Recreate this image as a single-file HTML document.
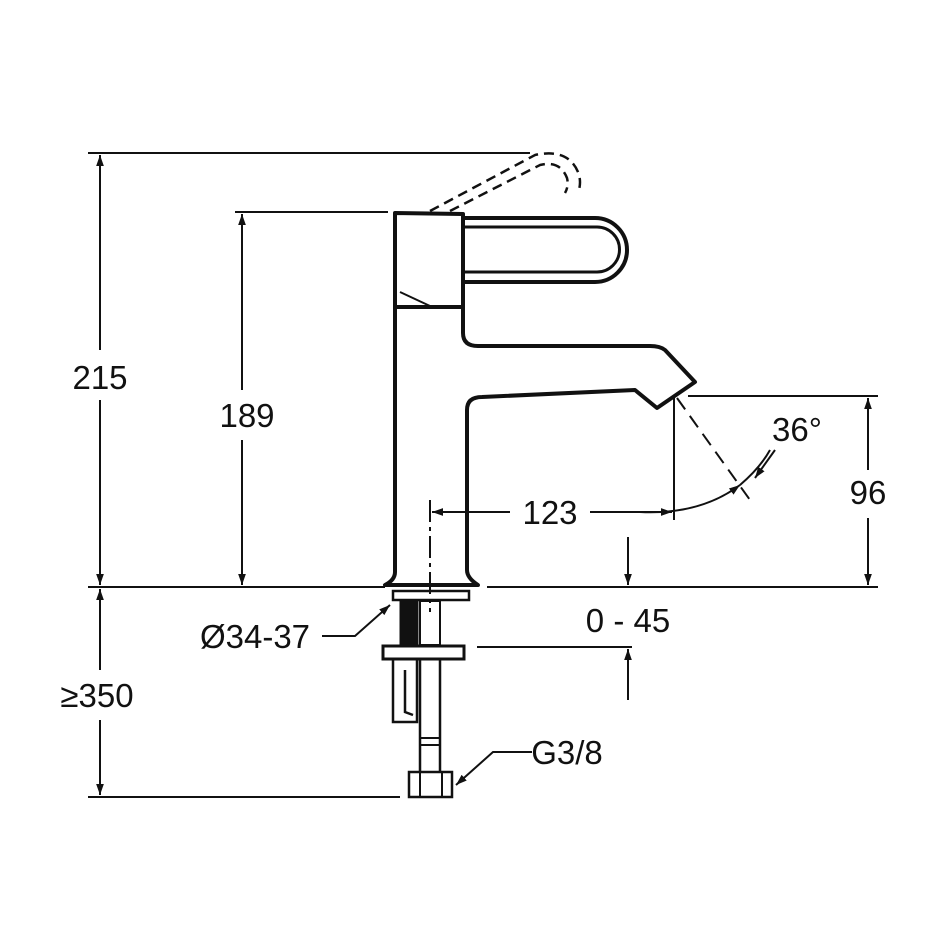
<!DOCTYPE html>
<html><head><style>
html,body{margin:0;padding:0;background:#fff;}
svg{display:block;}
text{font-family:"Liberation Sans",sans-serif;font-size:33px;fill:#111;}
</style></head><body>
<svg width="950" height="950" viewBox="0 0 950 950" xmlns="http://www.w3.org/2000/svg">
<defs>
<marker id="a" viewBox="0 0 10 10" refX="10" refY="5" markerWidth="11" markerHeight="20" orient="auto" markerUnits="userSpaceOnUse">
<path d="M0,1.5 L10,5 L0,8.5 Z" fill="#111"/></marker>
</defs>
<g stroke="#111" stroke-width="2" fill="none">
<line x1="88" y1="153" x2="530" y2="153"/>
<line x1="235" y1="212" x2="388" y2="212"/>
<line x1="88" y1="587" x2="385" y2="587"/>
<line x1="487" y1="587" x2="878" y2="587"/>
<line x1="688" y1="396" x2="878" y2="396"/>
<line x1="477" y1="647" x2="632" y2="647"/>
<line x1="88" y1="797" x2="400" y2="797"/>
<line x1="674" y1="398" x2="674" y2="520"/>
<line x1="100" y1="350" x2="100" y2="155" marker-end="url(#a)"/>
<line x1="100" y1="400" x2="100" y2="585" marker-end="url(#a)"/>
<line x1="242" y1="390" x2="242" y2="214" marker-end="url(#a)"/>
<line x1="242" y1="440" x2="242" y2="585" marker-end="url(#a)"/>
<line x1="100" y1="670" x2="100" y2="589" marker-end="url(#a)"/>
<line x1="100" y1="720" x2="100" y2="795" marker-end="url(#a)"/>
<line x1="868" y1="470" x2="868" y2="398" marker-end="url(#a)"/>
<line x1="868" y1="518" x2="868" y2="585" marker-end="url(#a)"/>
<line x1="510" y1="512" x2="432" y2="512" marker-end="url(#a)"/>
<line x1="590" y1="512" x2="672" y2="512" marker-end="url(#a)"/>
<line x1="628" y1="537" x2="628" y2="585" marker-end="url(#a)"/>
<line x1="628" y1="700" x2="628" y2="649" marker-end="url(#a)"/>
<path d="M640,512 Q700,515 740,485" marker-end="url(#a)"/>
<path d="M740,485 Q760,468 770,450"/>
<line x1="775" y1="450" x2="755" y2="478" marker-end="url(#a)"/>
<polyline points="322,636 355,636 390,605" marker-end="url(#a)" />
<polyline points="532,752 493,752 456,785" marker-end="url(#a)"/>
<line x1="677" y1="398" x2="750" y2="500" stroke-dasharray="14,8"/>
<line x1="430" y1="500" x2="430" y2="612" stroke-dasharray="22,5,4,5"/>
<path d="M430,211 L535,155 Q568,148 578,172 Q582,182 578,193" stroke-dasharray="10,6" stroke-width="2.5"/>
<path d="M450,211 L540,165 Q560,160 567,178 Q569,186 565,193" stroke-dasharray="10,6" stroke-width="2.5"/>
</g>
<g stroke="#111" stroke-width="4" fill="none" stroke-linejoin="round">
<path d="M395,213 L463,214 L463,307 L395,307 Z"/>
<line x1="400" y1="292" x2="430" y2="306" stroke-width="2"/>
<path d="M463,218 L595,218 A32,32 0 0 1 595,282 L463,282"/>
<path d="M463,227 L597,227 A22.5,22.5 0 0 1 597,272 L463,272" stroke-width="3"/>
<path d="M395,307 L395,572 Q395,580 385,585 L478,585 Q467,578 467,570 L467,410 Q467,397 482,397 L635,390 L657,408 L695,382 L665,350 Q660,346 650,346 L478,346 Q463,346 463,333 L463,307"/>
</g>
<g stroke="#111" fill="none">
<rect x="393" y="591" width="76" height="9" stroke-width="2.5"/>
<rect x="400" y="601" width="18" height="44" fill="#111" stroke-width="1"/>
<rect x="420" y="601" width="20" height="44" stroke-width="2"/>
<rect x="383" y="646" width="81" height="13" stroke-width="3"/>
<path d="M393,660 L393,722 L417,722 L417,660 M405,670 L405,712 L413,715" stroke-width="2.5"/>
<path d="M420,660 L420,772 M440,660 L440,772" stroke-width="2.5"/>
<line x1="420" y1="738" x2="440" y2="738" stroke-width="2"/>
<line x1="420" y1="745" x2="440" y2="745" stroke-width="2"/>
<rect x="409" y="772" width="43" height="25" stroke-width="2.5"/>
<line x1="420" y1="772" x2="420" y2="797" stroke-width="2"/>
<line x1="442" y1="772" x2="442" y2="797" stroke-width="2"/>
</g>
<text x="100" y="389" text-anchor="middle">215</text>
<text x="247" y="427" text-anchor="middle">189</text>
<text x="550" y="524" text-anchor="middle">123</text>
<text x="868" y="504" text-anchor="middle">96</text>
<text x="797" y="441" text-anchor="middle">36°</text>
<text x="628" y="632" text-anchor="middle">0 - 45</text>
<text x="255" y="648" text-anchor="middle">Ø34-37</text>
<text x="97" y="707" text-anchor="middle">≥350</text>
<text x="567" y="764" text-anchor="middle">G3/8</text>
</svg>
</body></html>
